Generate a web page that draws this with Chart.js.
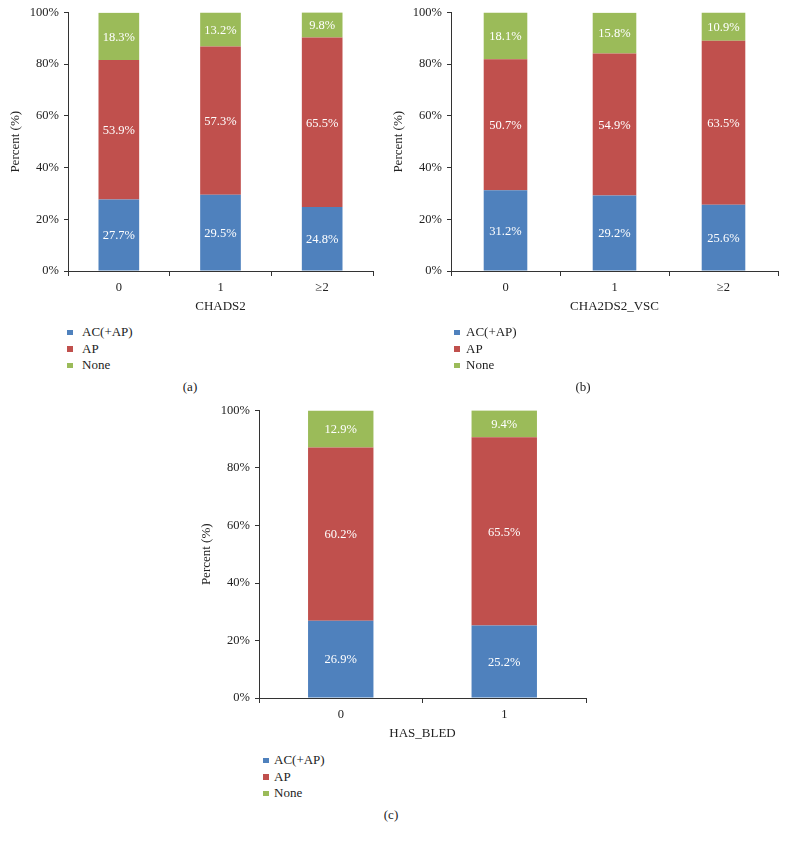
<!DOCTYPE html>
<html>
<head>
<meta charset="utf-8">
<script src="https://cdn.jsdelivr.net/npm/chart.js@4"></script>
<style>
  html, body { margin: 0; padding: 0; background: #fff; }
  #wrap { position: relative; width: 786px; height: 842px; background: #fff; overflow: hidden; font-family: "Liberation Serif", "Times New Roman", serif; color: #222; }
  canvas { position: absolute; }
  .legend { position: absolute; font-size: 13px; line-height: 16.6px; }
  .legend .item { position: relative; height: 16.6px; white-space: nowrap; }
  .legend .sw { position: absolute; left: 0; top: 5.5px; width: 5.5px; height: 5.5px; }
  .legend .tx { position: absolute; top: 0; }
  .cap { position: absolute; font-size: 13px; transform: translate(-50%, -50%); white-space: nowrap; }
</style>
</head>
<body>
<div id="wrap">
  <canvas id="cA" width="393" height="314" style="left:0px;top:0px;"></canvas>
  <canvas id="cB" width="403" height="314" style="left:383px;top:0px;"></canvas>
  <canvas id="cC" width="409" height="343" style="left:191px;top:398px;"></canvas>
  <div class="legend" id="lA" style="left:67px;top:324px;"></div>
  <div class="legend" id="lB" style="left:454px;top:324px;"></div>
  <div class="legend" id="lC" style="left:263px;top:752px;"></div>
  <div class="cap" style="left:190px;top:387px;">(a)</div>
  <div class="cap" style="left:583px;top:387px;">(b)</div>
  <div class="cap" style="left:391px;top:815px;">(c)</div>
</div>
<script>
// ---- Data ----
const seriesNames = ['AC(+AP)', 'AP', 'None'];
const seriesColors = ['#4F81BD', '#C0504D', '#9BBB59'];
const yTickValues = [0, 20, 40, 60, 80, 100];

const categoriesA = ['0', '1', '≥2'];
const acA   = [27.7, 29.5, 24.8];
const apA   = [53.9, 57.3, 65.5];
const noneA = [18.3, 13.2, 9.8];
const xTitleA = 'CHADS2';

const categoriesB = ['0', '1', '≥2'];
const acB   = [31.2, 29.2, 25.6];
const apB   = [50.7, 54.9, 63.5];
const noneB = [18.1, 15.8, 10.9];
const xTitleB = 'CHA2DS2_VSC';

const categoriesC = ['0', '1'];
const acC   = [26.9, 25.2];
const apC   = [60.2, 65.5];
const noneC = [12.9, 9.4];
const xTitleC = 'HAS_BLED';

const yTitle = 'Percent (%)';

// ---- Rendering ----
const FONT = '"Liberation Serif", "Times New Roman", serif';
const AXIS = '#333';
const TEXT = '#222';

const barLabels = {
  id: 'barLabels',
  afterDatasetsDraw(chart) {
    const ctx = chart.ctx;
    ctx.save();
    ctx.font = '12.5px ' + FONT;
    ctx.fillStyle = '#ffffff';
    ctx.textAlign = 'center';
    ctx.textBaseline = 'middle';
    chart.data.datasets.forEach((ds, i) => {
      const meta = chart.getDatasetMeta(i);
      meta.data.forEach((bar, j) => {
        const p = bar.getProps(['x', 'y', 'base'], true);
        ctx.fillText(ds.data[j].toFixed(1) + '%', p.x, (p.y + p.base) / 2 + 1);
      });
    });
    ctx.restore();
  }
};

function makeChart(id, cats, series, xTitle, rightPad) {
  return new Chart(document.getElementById(id), {
    type: 'bar',
    data: {
      labels: cats,
      datasets: series.map((d, i) => ({
        label: seriesNames[i],
        data: d,
        backgroundColor: seriesColors[i],
        borderWidth: 0,
        barPercentage: 0.4,
        categoryPercentage: 1.0
      }))
    },
    options: {
      responsive: false,
      animation: false,
      devicePixelRatio: 1,
      layout: { padding: { top: 12, right: rightPad, left: 0, bottom: 0 } },
      plugins: { legend: { display: false }, tooltip: { enabled: false } },
      scales: {
        x: {
          stacked: true,
          grid: { offset: true, drawOnChartArea: false, drawTicks: true, tickLength: 5, color: AXIS },
          border: { color: AXIS, width: 1 },
          ticks: { color: TEXT, font: { family: FONT, size: 12.5 }, padding: 4, maxRotation: 0 },
          title: { display: true, text: xTitle, color: TEXT, font: { family: FONT, size: 13 }, padding: 0 },
          afterFit(s) { s.height = 43; }
        },
        y: {
          stacked: true,
          min: 0, max: 100,
          afterBuildTicks(s) { s.ticks = yTickValues.map(v => ({ value: v })); },
          grid: { drawOnChartArea: false, drawTicks: true, tickLength: 4, color: AXIS },
          border: { color: AXIS, width: 1 },
          ticks: { color: TEXT, font: { family: FONT, size: 12.5 }, padding: 5, callback: v => v + '%' },
          title: { display: true, text: yTitle, color: TEXT, font: { family: FONT, size: 13 }, padding: { top: 8, bottom: 0 } },
          afterFit(s) { s.width = 68; }
        }
      }
    },
    plugins: [barLabels]
  });
}

makeChart('cA', categoriesA, [acA, apA, noneA], xTitleA, 20);
makeChart('cB', categoriesB, [acB, apB, noneB], xTitleB, 8);
makeChart('cC', categoriesC, [acC, apC, noneC], xTitleC, 14);

function makeLegend(id) {
  const el = document.getElementById(id);
  seriesNames.forEach((n, i) => {
    const it = document.createElement('div');
    it.className = 'item';
    const sw = document.createElement('span');
    sw.className = 'sw';
    sw.style.background = seriesColors[i];
    const tx = document.createElement('span');
    tx.className = 'tx';
    tx.style.left = (id === 'lC' ? 11 : (id === 'lB' ? 12 : 15)) + 'px';
    tx.textContent = n;
    it.appendChild(sw); it.appendChild(tx);
    el.appendChild(it);
  });
}
makeLegend('lA'); makeLegend('lB'); makeLegend('lC');
</script>
</body>
</html>
